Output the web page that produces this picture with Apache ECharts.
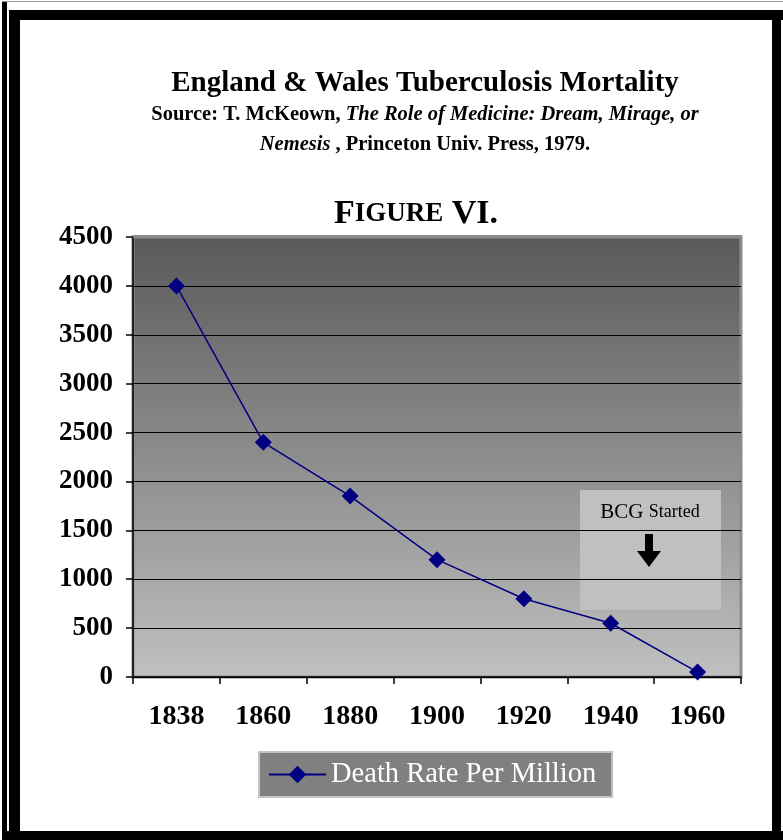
<!DOCTYPE html>
<html>
<head>
<meta charset="utf-8">
<script src="https://cdn.jsdelivr.net/npm/echarts@6/dist/echarts.min.js"></script>
<style>
  html, body { margin: 0; padding: 0; background: #fff; }
  #chart { width: 783px; height: 840px; }
</style>
</head>
<body>
<div id="chart"></div>
<script>
// data
let years = ['1838', '1860', '1880', '1900', '1920', '1940', '1960'];
let death_rate = [4000, 2400, 1850, 1200, 800, 550, 50]; // deaths per million
let y_min = 0, y_max = 4500, y_step = 500;
let series_name = 'Death Rate Per Million';

let serif = "'Liberation Serif', 'Times New Roman', serif";

let chart = echarts.init(document.getElementById('chart'));

// frame bands round the page
let frame = [
    { x: 2, y: 1, w: 781, h: 1, c: '#999' },
    { x: 2, y: 2, w: 5, h: 838, c: '#000' },
    { x: 9, y: 10, w: 11, h: 830, c: '#000' },
    { x: 9, y: 10, w: 774, h: 10, c: '#000' },
    { x: 772, y: 10, w: 9, h: 830, c: '#000' },
    { x: 2, y: 831, w: 781, h: 9, c: '#000' }
].map(function (b) {
    return { type: 'rect', shape: { x: b.x, y: b.y, width: b.w, height: b.h }, style: { fill: b.c }, silent: true };
});

let sub_rich = {
    b: { fontFamily: serif, fontSize: 20.5, fontWeight: 'bold', color: '#000' },
    bi: { fontFamily: serif, fontSize: 20.5, fontWeight: 'bold', fontStyle: 'italic', color: '#000' }
};

let option = {
    backgroundColor: '#fff',
    animation: false,
    title: [
        {
            text: 'England & Wales Tuberculosis Mortality',
            left: 420, top: 64, textAlign: 'center',
            textStyle: { fontFamily: serif, fontSize: 29, fontWeight: 'bold', color: '#000' }
        },
        {
            text: '{b|Source: T. McKeown, }{bi|The Role of Medicine: Dream, Mirage, or}',
            left: 420, top: 99, textAlign: 'center',
            textStyle: { rich: sub_rich }
        },
        {
            text: '{bi|Nemesis}{b| , Princeton Univ. Press, 1979.}',
            left: 420, top: 129, textAlign: 'center',
            textStyle: { rich: sub_rich }
        },
        {
            text: '{big|F}{sm|IGURE}{big| VI.}',
            left: 411, top: 192, textAlign: 'center',
            textStyle: {
                rich: {
                    big: { fontFamily: serif, fontSize: 34, fontWeight: 'bold', color: '#000' },
                    sm: { fontFamily: serif, fontSize: 27, fontWeight: 'bold', color: '#000' }
                }
            }
        }
    ],
    grid: {
        left: 133, right: 42, top: 237, bottom: 163,
        show: true,
        backgroundColor: new echarts.graphic.LinearGradient(0, 0, 0, 1, [
            { offset: 0, color: '#595959' },
            { offset: 1, color: '#c0c0c0' }
        ]),
        borderColor: '#8c8c8c',
        borderWidth: 3
    },
    legend: {
        left: 259, top: 752,
        padding: [8, 16, 8, 9],
        backgroundColor: '#808080',
        borderColor: '#c4c4c4',
        borderWidth: 2,
        itemWidth: 57,
        itemHeight: 22,
        itemGap: 6,
        textStyle: { fontFamily: serif, fontSize: 28.5, color: '#fff' },
        data: [series_name]
    },
    xAxis: {
        type: 'category',
        data: years,
        boundaryGap: true,
        axisLine: { show: true, lineStyle: { color: '#000', width: 1.5 } },
        axisTick: { show: true, length: 7, lineStyle: { color: '#000', width: 1.5 } },
        axisLabel: { margin: 26, fontFamily: serif, fontSize: 28, fontWeight: 'bold', color: '#000' },
        splitLine: { show: false }
    },
    yAxis: {
        type: 'value',
        min: y_min, max: y_max, interval: y_step,
        axisLine: { show: true, lineStyle: { color: '#000', width: 1.5 } },
        axisTick: { show: true, length: 7, lineStyle: { color: '#000', width: 1.5 } },
        axisLabel: {
            margin: 20, fontFamily: serif, fontSize: 27, fontWeight: 'bold', color: '#000',
            formatter: function (v) { return String(v); }
        },
        splitLine: { show: true, lineStyle: { color: '#000', width: 1.2 } }
    },
    series: [
        {
            name: series_name,
            type: 'line',
            data: death_rate,
            symbol: 'diamond',
            symbolSize: 17,
            itemStyle: { color: '#000080' },
            lineStyle: { color: '#000080', width: 1.5 },
            z: 5
        }
    ],
    graphic: frame.concat([
        // cover top grid line with the plot's light rim
        { type: 'rect', shape: { x: 133, y: 235, width: 609, height: 3 }, style: { fill: '#8c8c8c' }, z: 3, silent: true },
        {
            type: 'group', left: 580, top: 490, z: 10,
            children: [
                { type: 'rect', shape: { x: 0, y: 0, width: 141, height: 120 }, style: { fill: '#c0c0c0' } },
                {
                    type: 'text', x: 70, y: 12,
                    style: {
                        text: '{a|BCG }{b|Started}', align: 'center',
                        rich: {
                            a: { fontFamily: serif, fontSize: 21, fill: '#000', color: '#000' },
                            b: { fontFamily: serif, fontSize: 18, fill: '#000', color: '#000' }
                        }
                    }
                },
                {
                    type: 'polygon',
                    shape: { points: [[65, 44], [73, 44], [73, 61], [81, 61], [69, 77], [57, 61], [65, 61]] },
                    style: { fill: '#000' }
                }
            ]
        }
    ])
};

chart.setOption(option);
</script>
</body>
</html>
